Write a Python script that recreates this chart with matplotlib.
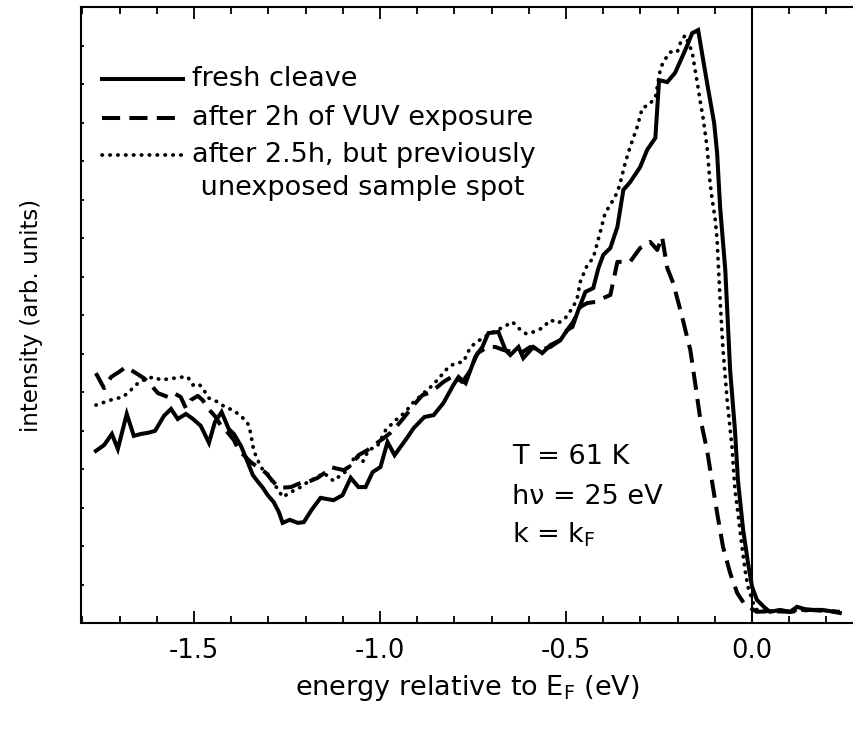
import numpy as np
import matplotlib.pyplot as plt
from matplotlib.lines import Line2D
from matplotlib.ticker import MultipleLocator

plt.rcParams['font.family'] = ['DejaVu Sans']
plt.rcParams['mathtext.fontset'] = 'dejavusans'

# fresh cleave (solid)
e_fresh = [-1.764, -1.742, -1.721, -1.705, -1.681, -1.662, -1.643, -1.624, -1.605, -1.581,
           -1.562, -1.544, -1.522, -1.503, -1.482, -1.460, -1.444, -1.426, -1.407, -1.393,
           -1.374, -1.358, -1.342, -1.326, -1.315, -1.302, -1.286, -1.272, -1.262, -1.243,
           -1.221, -1.205, -1.184, -1.160, -1.125, -1.101, -1.079, -1.058, -1.039, -1.020,
           -0.999, -0.980, -0.961, -0.926, -0.910, -0.881, -0.856, -0.830, -0.803, -0.789,
           -0.770, -0.744, -0.725, -0.709, -0.682, -0.663, -0.650, -0.628, -0.615, -0.588,
           -0.564, -0.542, -0.515, -0.497, -0.483, -0.467, -0.448, -0.427, -0.413, -0.400,
           -0.381, -0.362, -0.346, -0.328, -0.301, -0.282, -0.260, -0.250, -0.228, -0.207,
           -0.188, -0.174, -0.161, -0.145, -0.121, -0.102, -0.094, -0.086, -0.072, -0.059,
           -0.046, -0.038, -0.024, -0.011, 0.000, 0.013, 0.035, 0.048, 0.075, 0.102,
           0.121, 0.142, 0.164, 0.188, 0.209, 0.236]
i_fresh = [4.47, 4.62, 4.91, 4.52, 5.43, 4.86, 4.91, 4.94, 4.99, 5.38,
           5.56, 5.30, 5.43, 5.30, 5.12, 4.68, 5.22, 5.48, 5.04, 4.91,
           4.60, 4.23, 3.84, 3.64, 3.51, 3.32, 3.14, 2.88, 2.60, 2.68,
           2.60, 2.62, 2.94, 3.25, 3.19, 3.32, 3.77, 3.53, 3.53, 3.92,
           4.05, 4.70, 4.36, 4.83, 5.06, 5.35, 5.40, 5.71, 6.18, 6.39,
           6.23, 6.91, 7.17, 7.53, 7.56, 7.09, 6.96, 7.17, 6.88, 7.17,
           7.01, 7.22, 7.35, 7.61, 7.69, 8.13, 8.60, 8.70, 9.22, 9.56,
           9.74, 10.29, 11.25, 11.45, 11.84, 12.29, 12.60, 14.10, 14.05, 14.29,
           14.70, 15.01, 15.32, 15.40, 14.03, 12.99, 12.21, 10.81, 9.17, 6.57,
           5.01, 3.71, 2.42, 1.56, 0.94, 0.60, 0.39, 0.29, 0.34, 0.29,
           0.42, 0.36, 0.34, 0.34, 0.31, 0.26]

# after 2h of VUV exposure (dashed)
e_vuv = [-1.764, -1.742, -1.723, -1.702, -1.683, -1.656, -1.635, -1.616, -1.597, -1.570,
         -1.554, -1.536, -1.522, -1.509, -1.490, -1.477, -1.463, -1.442, -1.426, -1.409,
         -1.393, -1.380, -1.348, -1.326, -1.307, -1.291, -1.272, -1.240, -1.213, -1.195,
         -1.168, -1.146, -1.133, -1.098, -1.079, -1.058, -1.034, -1.012, -0.993, -0.972,
         -0.953, -0.937, -0.910, -0.886, -0.870, -0.846, -0.830, -0.803, -0.779, -0.762,
         -0.738, -0.711, -0.690, -0.668, -0.642, -0.617, -0.596, -0.569, -0.542, -0.515,
         -0.497, -0.481, -0.462, -0.443, -0.421, -0.400, -0.381, -0.362, -0.346, -0.328,
         -0.301, -0.274, -0.255, -0.242, -0.228, -0.212, -0.188, -0.166, -0.153, -0.140,
         -0.121, -0.107, -0.094, -0.078, -0.059, -0.040, -0.019, 0.013, 0.048, 0.102,
         0.156, 0.236]
i_vuv = [6.49, 6.10, 6.39, 6.52, 6.65, 6.49, 6.36, 6.18, 5.97, 5.87,
         5.97, 5.87, 5.58, 5.79, 5.90, 5.79, 5.58, 5.35, 5.09, 4.94,
         4.75, 4.49, 4.18, 4.03, 3.90, 3.71, 3.51, 3.53, 3.64, 3.66,
         3.77, 3.92, 4.05, 3.97, 4.08, 4.36, 4.49, 4.65, 4.78, 4.94,
         5.14, 5.32, 5.66, 5.92, 5.97, 6.13, 6.26, 6.42, 6.26, 6.49,
         7.01, 7.17, 7.17, 7.09, 7.04, 7.04, 7.17, 7.09, 7.17, 7.35,
         7.61, 7.82, 8.21, 8.31, 8.34, 8.44, 8.52, 9.38, 9.38, 9.38,
         9.74, 9.90, 9.69, 10.03, 9.22, 8.83, 7.95, 7.09, 6.23, 5.35,
         4.49, 3.64, 2.86, 1.97, 1.30, 0.78, 0.47, 0.29, 0.31, 0.29,
         0.34, 0.29]

# after 2.5h, unexposed spot (dotted)
e_spot = [-1.764, -1.740, -1.715, -1.691, -1.670, -1.651, -1.630, -1.608, -1.589, -1.570,
          -1.552, -1.530, -1.517, -1.503, -1.487, -1.474, -1.460, -1.436, -1.417, -1.396,
          -1.374, -1.356, -1.348, -1.340, -1.329, -1.315, -1.302, -1.289, -1.275, -1.262,
          -1.240, -1.213, -1.195, -1.168, -1.152, -1.125, -1.106, -1.087, -1.066, -1.047,
          -1.031, -1.007, -0.985, -0.958, -0.932, -0.913, -0.883, -0.864, -0.846, -0.816,
          -0.797, -0.776, -0.757, -0.725, -0.695, -0.668, -0.644, -0.628, -0.607, -0.588,
          -0.564, -0.542, -0.521, -0.502, -0.481, -0.470, -0.462, -0.443, -0.427, -0.408,
          -0.395, -0.381, -0.362, -0.354, -0.341, -0.328, -0.309, -0.295, -0.279, -0.260,
          -0.247, -0.239, -0.220, -0.201, -0.193, -0.180, -0.172, -0.161, -0.153, -0.145,
          -0.140, -0.132, -0.121, -0.113, -0.107, -0.099, -0.094, -0.086, -0.078, -0.067,
          -0.054, -0.046, -0.038, -0.027, -0.019, -0.011, 0.003, 0.016, 0.050, 0.100,
          0.150, 0.200, 0.236]
i_spot = [5.66, 5.74, 5.82, 5.87, 6.05, 6.23, 6.34, 6.39, 6.31, 6.34,
          6.36, 6.39, 6.39, 6.18, 6.21, 6.05, 5.84, 5.74, 5.61, 5.53,
          5.38, 5.19, 4.94, 4.49, 4.23, 3.97, 3.87, 3.66, 3.48, 3.27,
          3.40, 3.53, 3.66, 3.79, 3.90, 3.69, 3.84, 3.97, 4.36, 4.18,
          4.49, 4.60, 5.01, 5.27, 5.48, 5.71, 5.97, 6.13, 6.31, 6.65,
          6.75, 6.78, 7.17, 7.40, 7.56, 7.69, 7.82, 7.66, 7.51, 7.56,
          7.66, 7.87, 7.79, 7.92, 8.21, 8.44, 8.86, 9.30, 9.48, 10.16,
          10.65, 10.86, 11.19, 11.45, 11.95, 12.36, 12.88, 13.38, 13.45, 13.64,
          14.36, 14.57, 14.83, 14.83, 15.06, 15.27, 15.09, 14.83, 14.36, 13.90,
          13.58, 13.14, 12.36, 11.43, 10.99, 10.47, 9.95, 8.39, 7.09, 5.79,
          4.57, 3.45, 2.86, 1.97, 1.38, 0.94, 0.52, 0.29, 0.31, 0.31,
          0.34, 0.32, 0.29]

labels = ['fresh cleave', 'after 2h of VUV exposure',
          'after 2.5h, but previously', ' unexposed sample spot']

fig = plt.figure(figsize=(8.54, 7.3), dpi=100)
ax = fig.add_axes([81 / 854, 107 / 730, 1 - 81 / 854, 616 / 730])

lw = 2.9
dash_style = (0, (4.5, 2.3))
dot_style = (0, (0.1, 2.0))
dot_lw = 2.7
ax.plot(e_fresh, i_fresh, color='black', lw=lw, solid_joinstyle='miter')
ax.plot(e_vuv, i_vuv, color='black', lw=lw, linestyle=dash_style)
ax.plot(e_spot, i_spot, color='black', lw=dot_lw, linestyle=dot_style, dash_capstyle='round')
ax.axvline(0, color='black', lw=1.5)

ax.set_xlim(-1.804, 0.274)
ax.set_ylim(0, 16)
ax.spines['right'].set_visible(False)
for s in ['left', 'bottom', 'top']:
    ax.spines[s].set_linewidth(1.5)

ax.xaxis.set_major_locator(MultipleLocator(0.5))
ax.xaxis.set_minor_locator(MultipleLocator(0.1))
ax.yaxis.set_major_locator(MultipleLocator(1))
ax.tick_params(axis='x', which='both', direction='in', top=True, width=1.3, labelsize=18.5, pad=11)
ax.tick_params(axis='x', which='major', length=8.5)
ax.tick_params(axis='x', which='minor', length=4.7)
ax.tick_params(axis='y', which='major', direction='in', length=2.5, width=1.3, labelleft=False)
ax.set_xticks([-1.5, -1.0, -0.5, 0.0])
ax.set_xticklabels(['-1.5', '-1.0', '-0.5', '0.0'])

ax.set_xlabel(r'energy relative to E$_\mathregular{F}$ (eV)', fontsize=19.5, labelpad=6)
ax.set_ylabel('intensity (arb. units)', fontsize=16.5, labelpad=27)

# legend drawn by hand
styles = [dict(lw=lw), dict(lw=lw, linestyle=dash_style),
          dict(lw=dot_lw, linestyle=dot_style, dash_capstyle='round')]
rows_y = [1 - 79 / 730, 1 - 118 / 730, 1 - 155 / 730, 1 - 188 / 730]
for k in range(3):
    fig.add_artist(Line2D([102 / 854, 183 / 854], [rows_y[k], rows_y[k]], color='black', **styles[k]))
for k in range(4):
    fig.text(192 / 854, rows_y[k], labels[k], fontsize=19.5, va='center', ha='left')

ax.text(512 / 854, 1 - 457 / 730, 'T = 61 K', fontsize=19.5, va='center', transform=fig.transFigure)
ax.text(512 / 854, 1 - 497 / 730, 'h\u03bd = 25 eV', fontsize=19.5, va='center', transform=fig.transFigure)
ax.text(512 / 854, 1 - 535 / 730, r'k = k$_\mathregular{F}$', fontsize=19.5, va='center', transform=fig.transFigure)

fig.savefig('out.png', dpi=100)
